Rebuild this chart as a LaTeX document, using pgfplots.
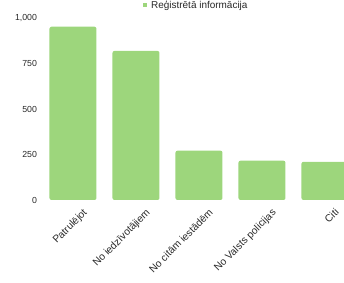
\documentclass[border=0pt]{standalone}
\usepackage{pgfplots}
\pgfplotsset{compat=1.18}
\usepackage{fontspec}
\setmainfont{Liberation Sans}
\definecolor{barg}{RGB}{157,214,124}
\definecolor{txt}{RGB}{40,40,40}
\begin{document}
\begin{tikzpicture}
\begin{axis}[
  at={(41.5bp,83bp)}, anchor=south west,
  scale only axis, width=302.5bp, height=182bp,
  xmin=-0.5, xmax=4.302, ymin=0, ymax=1000,
  axis line style={draw=none},
  ytick={0,250,500,750,1000},
  yticklabels={0,250,500,750,{1,000}},
  ytick style={draw=none}, xtick style={draw=none},
  xtick={0,1,2,3,4},
  xticklabels={Patrulējot,No iedzīvotājiem,No citām iestādēm,No Valsts policijas,Citi},
  x tick label style={rotate=45, anchor=north east, font=\fontsize{10.3}{11}\selectfont, text=txt, xshift=5bp, yshift=-8bp, inner sep=1bp},
  y tick label style={font=\fontsize{8.8}{10}\selectfont, text=txt, xshift=-1bp},
  /pgf/number format/assume math mode=true,
  ybar, bar width=47bp,
  legend style={at={(0.511,1.071)}, anchor=center, draw=none, fill=none, font=\fontsize{10}{11}\selectfont, text=txt, inner sep=0pt,
    /tikz/every odd column/.style={column sep=2bp}},
  legend image code/.code={\fill[barg, sharp corners] (0bp,-2bp) rectangle (4.5bp,2.5bp);},
]
\addplot[fill=barg, draw=none, rounded corners=2bp] coordinates {(0,952) (1,819) (2,271) (3,216) (4,210)};
\addlegendentry{Reģistrētā informācija}
\end{axis}
\pgfresetboundingbox
\useasboundingbox (0,0) rectangle (344bp,283bp);
\end{tikzpicture}
\end{document}
